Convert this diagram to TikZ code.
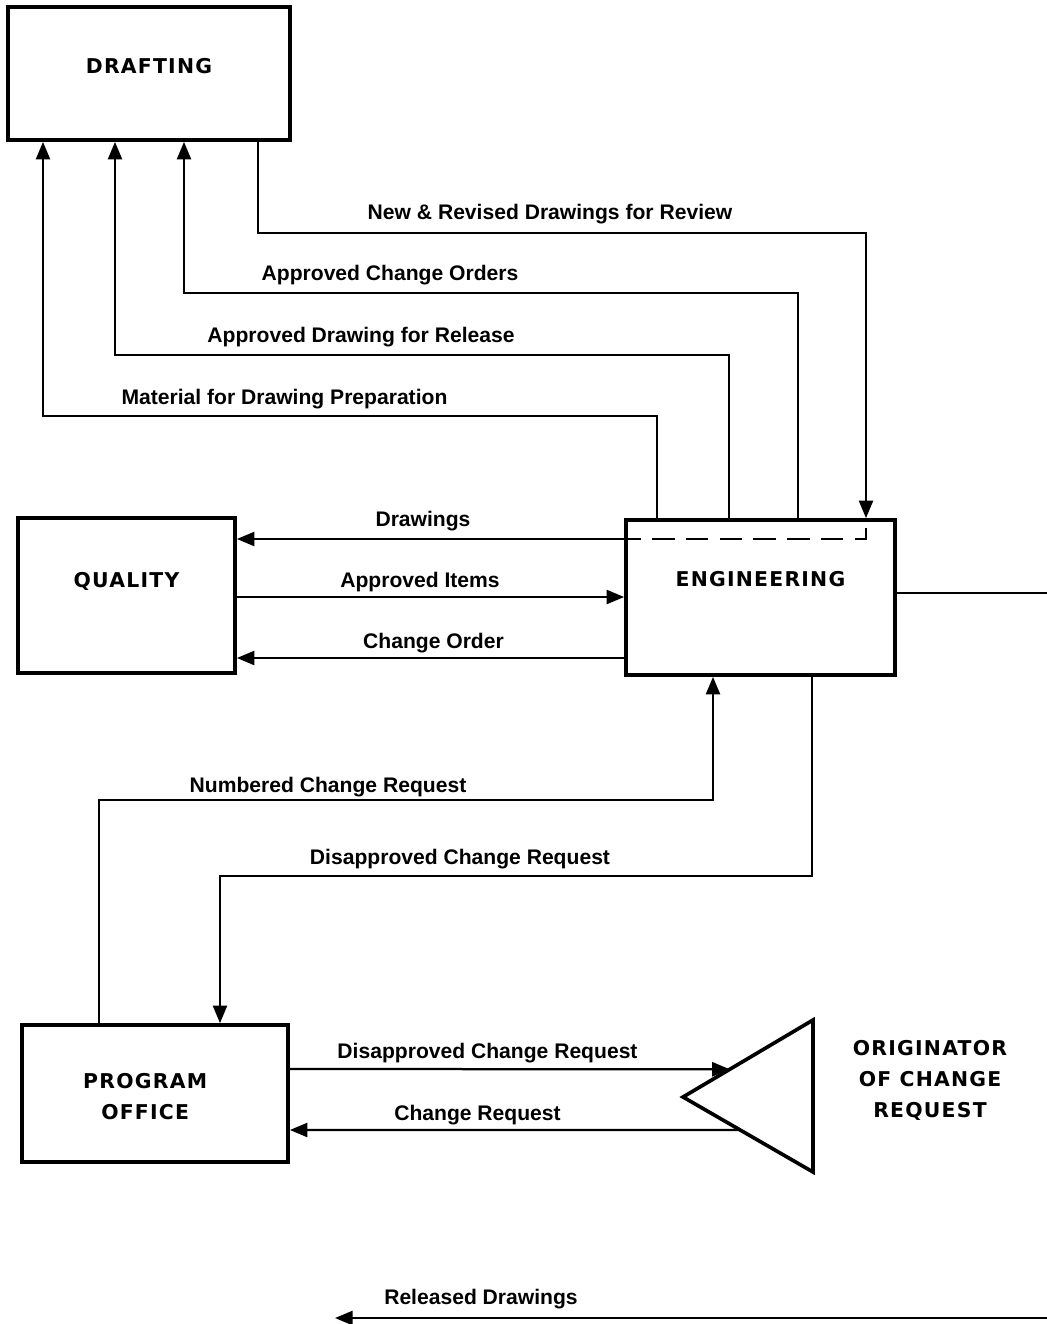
\documentclass[tikz,border=0pt]{standalone}
\usepackage{fontspec}
\setmainfont{Liberation Sans}
\newfontfamily\capsfont[LetterSpace=6]{DejaVu Sans}
\usetikzlibrary{arrows.meta,calc}

\tikzset{
  title/.style={font=\capsfont\bfseries\fontsize{14.5}{22}\selectfont, align=center},
  box/.style={title, draw, line width=2.6pt},
  wire/.style={line width=1.6pt},
  flow/.style={wire, -{Triangle[length=12.5pt,width=10pt]}},
  lbl/.style={font=\bfseries\fontsize{15}{18}\selectfont, text height=10.7pt, text depth=0pt}
}

\begin{document}
\begin{tikzpicture}[x=0.025cm, y=-0.025cm]
\useasboundingbox (0,0) rectangle (1047,1324);

% boxes
\node[box, minimum width=7.05cm, minimum height=3.325cm, text height=10.6pt, text depth=10.7pt] (draft) at (149,73.5) {DRAFTING};
\node[box, minimum width=5.425cm, minimum height=3.875cm, text height=10.6pt, text depth=22pt] (qual) at (126.5,595.5) {QUALITY};
\node[box, minimum width=6.725cm, minimum height=3.875cm, text height=10.6pt, text depth=26.3pt] (eng) at (760.5,597.5) {ENGINEERING};
\node[box, minimum width=6.65cm, minimum height=3.425cm] (po) at (155,1093.5)
  {\hspace*{-14pt}\rule{0pt}{15pt}PROGRAM\\\hspace*{-14pt}OFFICE};

% originator
\coordinate (apex) at (683,1097);
\coordinate (ttop) at (813,1020);
\coordinate (tbot) at (813,1172);
\draw[line width=2.6pt, line join=miter] (apex) -- (ttop) -- (tbot) -- cycle;
\node[title] (orig) at (930,1080) {ORIGINATOR\\OF CHANGE\\REQUEST};

% drafting loop
\draw[flow] (draft.south -| 258,0) |- (866,233) -- (eng.north -| 866,0);
\draw[flow] (eng.north -| 798,0) |- (184,293) -- (draft.south -| 184,0);
\draw[flow] (eng.north -| 729,0) |- (115,355) -- (draft.south -| 115,0);
\draw[flow] (eng.north -| 657,0) |- (43,416) -- (draft.south -| 43,0);
\node[lbl] (lrev) at (550,212) {New \& Revised Drawings for Review};
\node[lbl] (laco) at (390,273) {Approved Change Orders};
\node[lbl] (ladr) at (361,335) {Approved Drawing for Release};
\node[lbl] (lmat) at (284.5,397) {Material for Drawing Preparation};

% quality
\draw[wire, dash pattern=on 16pt off 8pt] (866,528) -- (866,539) -- (eng.west |- 0,539);
\draw[flow] (eng.west |- 0,539) -- (qual.east |- 0,539);
\draw[flow] (qual.east |- 0,597) -- (eng.west |- 0,597);
\draw[flow] (eng.west |- 0,658) -- (qual.east |- 0,658);
\node[lbl] (ldrw) at (423,519) {Drawings};
\node[lbl] (lapi) at (420,580) {Approved Items};
\node[lbl] (lcho) at (433.5,641) {Change Order};

% program office
\draw[flow] (po.north -| 99,0) |- (713,800) -- (eng.south -| 713,0);
\draw[flow] (eng.south -| 812,0) |- (220,876) -- (po.north -| 220,0);
\node[lbl] (lncr) at (328,785) {Numbered Change Request};
\node[lbl] (ldcr) at (460,857) {Disapproved Change Request};

\draw[flow] (po.east |- 0,1069) -- ($(apex)!0.36!(ttop)$);
\draw[flow] ($(apex)!0.44!(tbot)$) -- (po.east |- 0,1130);
\node[lbl] (ldcr2) at (487.5,1051) {Disapproved Change Request};
\node[lbl] (lcr) at (477.5,1113) {Change Request};

% off page
\coordinate (engout) at (1047,593);
\draw[wire] (eng.east |- engout) -- (engout);
\coordinate (relin) at (1047,1318);
\coordinate (relout) at (335,1318);
\draw[flow] (relin) -- (relout);
\node[lbl] (lrel) at (481,1297) {Released Drawings};
\end{tikzpicture}
\end{document}
